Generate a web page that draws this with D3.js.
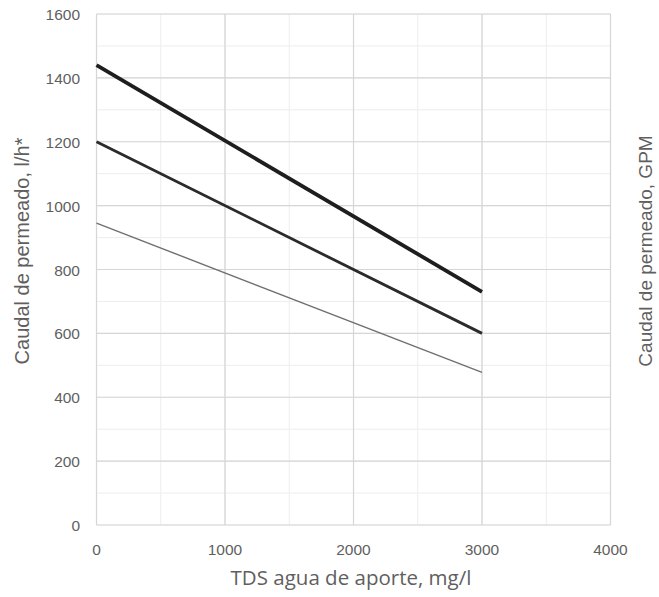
<!DOCTYPE html>
<html>
<head>
<meta charset="utf-8">
<script src="https://cdn.jsdelivr.net/npm/d3@7"></script>
<style>
  body { margin: 0; background: #fff; }
</style>
</head>
<body>
<svg id="chart" width="659" height="597"></svg>
<script>
// TDS (mg/l) at each end of the lines
let tds = [0, 3000];
// permeate flow, l/h
let highFlow = [1440, 730];
let midFlow = [1200, 600];
let lowFlow = [945, 478];

let xTicks = [0, 1000, 2000, 3000, 4000];
let yTicks = [0, 200, 400, 600, 800, 1000, 1200, 1400, 1600];
let xMinor = d3.range(0, 4001, 500);
let yMinor = d3.range(0, 1601, 100);

let series = [
    {name: "alto", values: highFlow, width: 3.8, color: "#1e1e1e"},
    {name: "medio", values: midFlow, width: 2.8, color: "#2b2b2b"},
    {name: "bajo", values: lowFlow, width: 1.4, color: "#707070"}
];

let textColor = "#5f5f5f";
let svg = d3.select("#chart");
let plotLeft = 96.5, plotRight = 610.5, plotTop = 14, plotBottom = 525;

let x = d3.scaleLinear().domain([0, 4000]).range([plotLeft, plotRight]);
let y = d3.scaleLinear().domain([0, 1600]).range([plotBottom, plotTop]);

// minor grid
svg.append("g").selectAll("line.xminor").data(xMinor).enter().append("line")
    .attr("x1", d => x(d)).attr("x2", d => x(d))
    .attr("y1", plotTop).attr("y2", plotBottom)
    .style("stroke", "#ededed").style("stroke-width", 1);
svg.append("g").selectAll("line.yminor").data(yMinor).enter().append("line")
    .attr("x1", plotLeft).attr("x2", plotRight)
    .attr("y1", d => y(d)).attr("y2", d => y(d))
    .style("stroke", "#ededed").style("stroke-width", 1);

// major grid
svg.append("g").selectAll("line.xmajor").data(xTicks).enter().append("line")
    .attr("x1", d => x(d)).attr("x2", d => x(d))
    .attr("y1", plotTop).attr("y2", plotBottom)
    .style("stroke", "#d6d6d6").style("stroke-width", 1.2);
svg.append("g").selectAll("line.ymajor").data(yTicks).enter().append("line")
    .attr("x1", plotLeft).attr("x2", plotRight)
    .attr("y1", d => y(d)).attr("y2", d => y(d))
    .style("stroke", "#d6d6d6").style("stroke-width", 1.2);

// tick labels
svg.append("g").selectAll("text").data(yTicks).enter().append("text")
    .attr("x", 80).attr("y", d => y(d) + 6)
    .attr("text-anchor", "end")
    .style("fill", textColor)
    .style("font-family", "Liberation Sans, Arial, sans-serif")
    .style("font-size", "15.5px")
    .text(d => d);
svg.append("g").selectAll("text").data(xTicks).enter().append("text")
    .attr("x", d => x(d)).attr("y", 555)
    .attr("text-anchor", "middle")
    .style("fill", textColor)
    .style("font-family", "Liberation Sans, Arial, sans-serif")
    .style("font-size", "15.5px")
    .text(d => d);

// lines
let line = d3.line().x((d, i) => x(tds[i])).y(d => y(d));
svg.append("g").selectAll("path").data(series).enter().append("path")
    .attr("d", d => line(d.values))
    .style("fill", "none")
    .style("stroke", d => d.color)
    .style("stroke-width", d => d.width);

// axis titles
svg.append("text")
    .attr("x", 351).attr("y", 585)
    .attr("text-anchor", "middle")
    .style("fill", textColor)
    .style("font-family", "Open Sans, sans-serif")
    .style("font-size", "20.5px")
    .text("TDS agua de aporte, mg/l");
svg.append("text")
    .attr("transform", "translate(29,251) rotate(-90)")
    .attr("text-anchor", "middle")
    .style("fill", textColor)
    .style("font-family", "Liberation Sans, Arial, sans-serif")
    .style("font-size", "20px")
    .text("Caudal de permeado, l/h*");
svg.append("text")
    .attr("transform", "translate(652,251) rotate(-90)")
    .attr("text-anchor", "middle")
    .style("fill", textColor)
    .style("font-family", "Liberation Sans, Arial, sans-serif")
    .style("font-size", "19px")
    .text("Caudal de permeado, GPM");
</script>
</body>
</html>
